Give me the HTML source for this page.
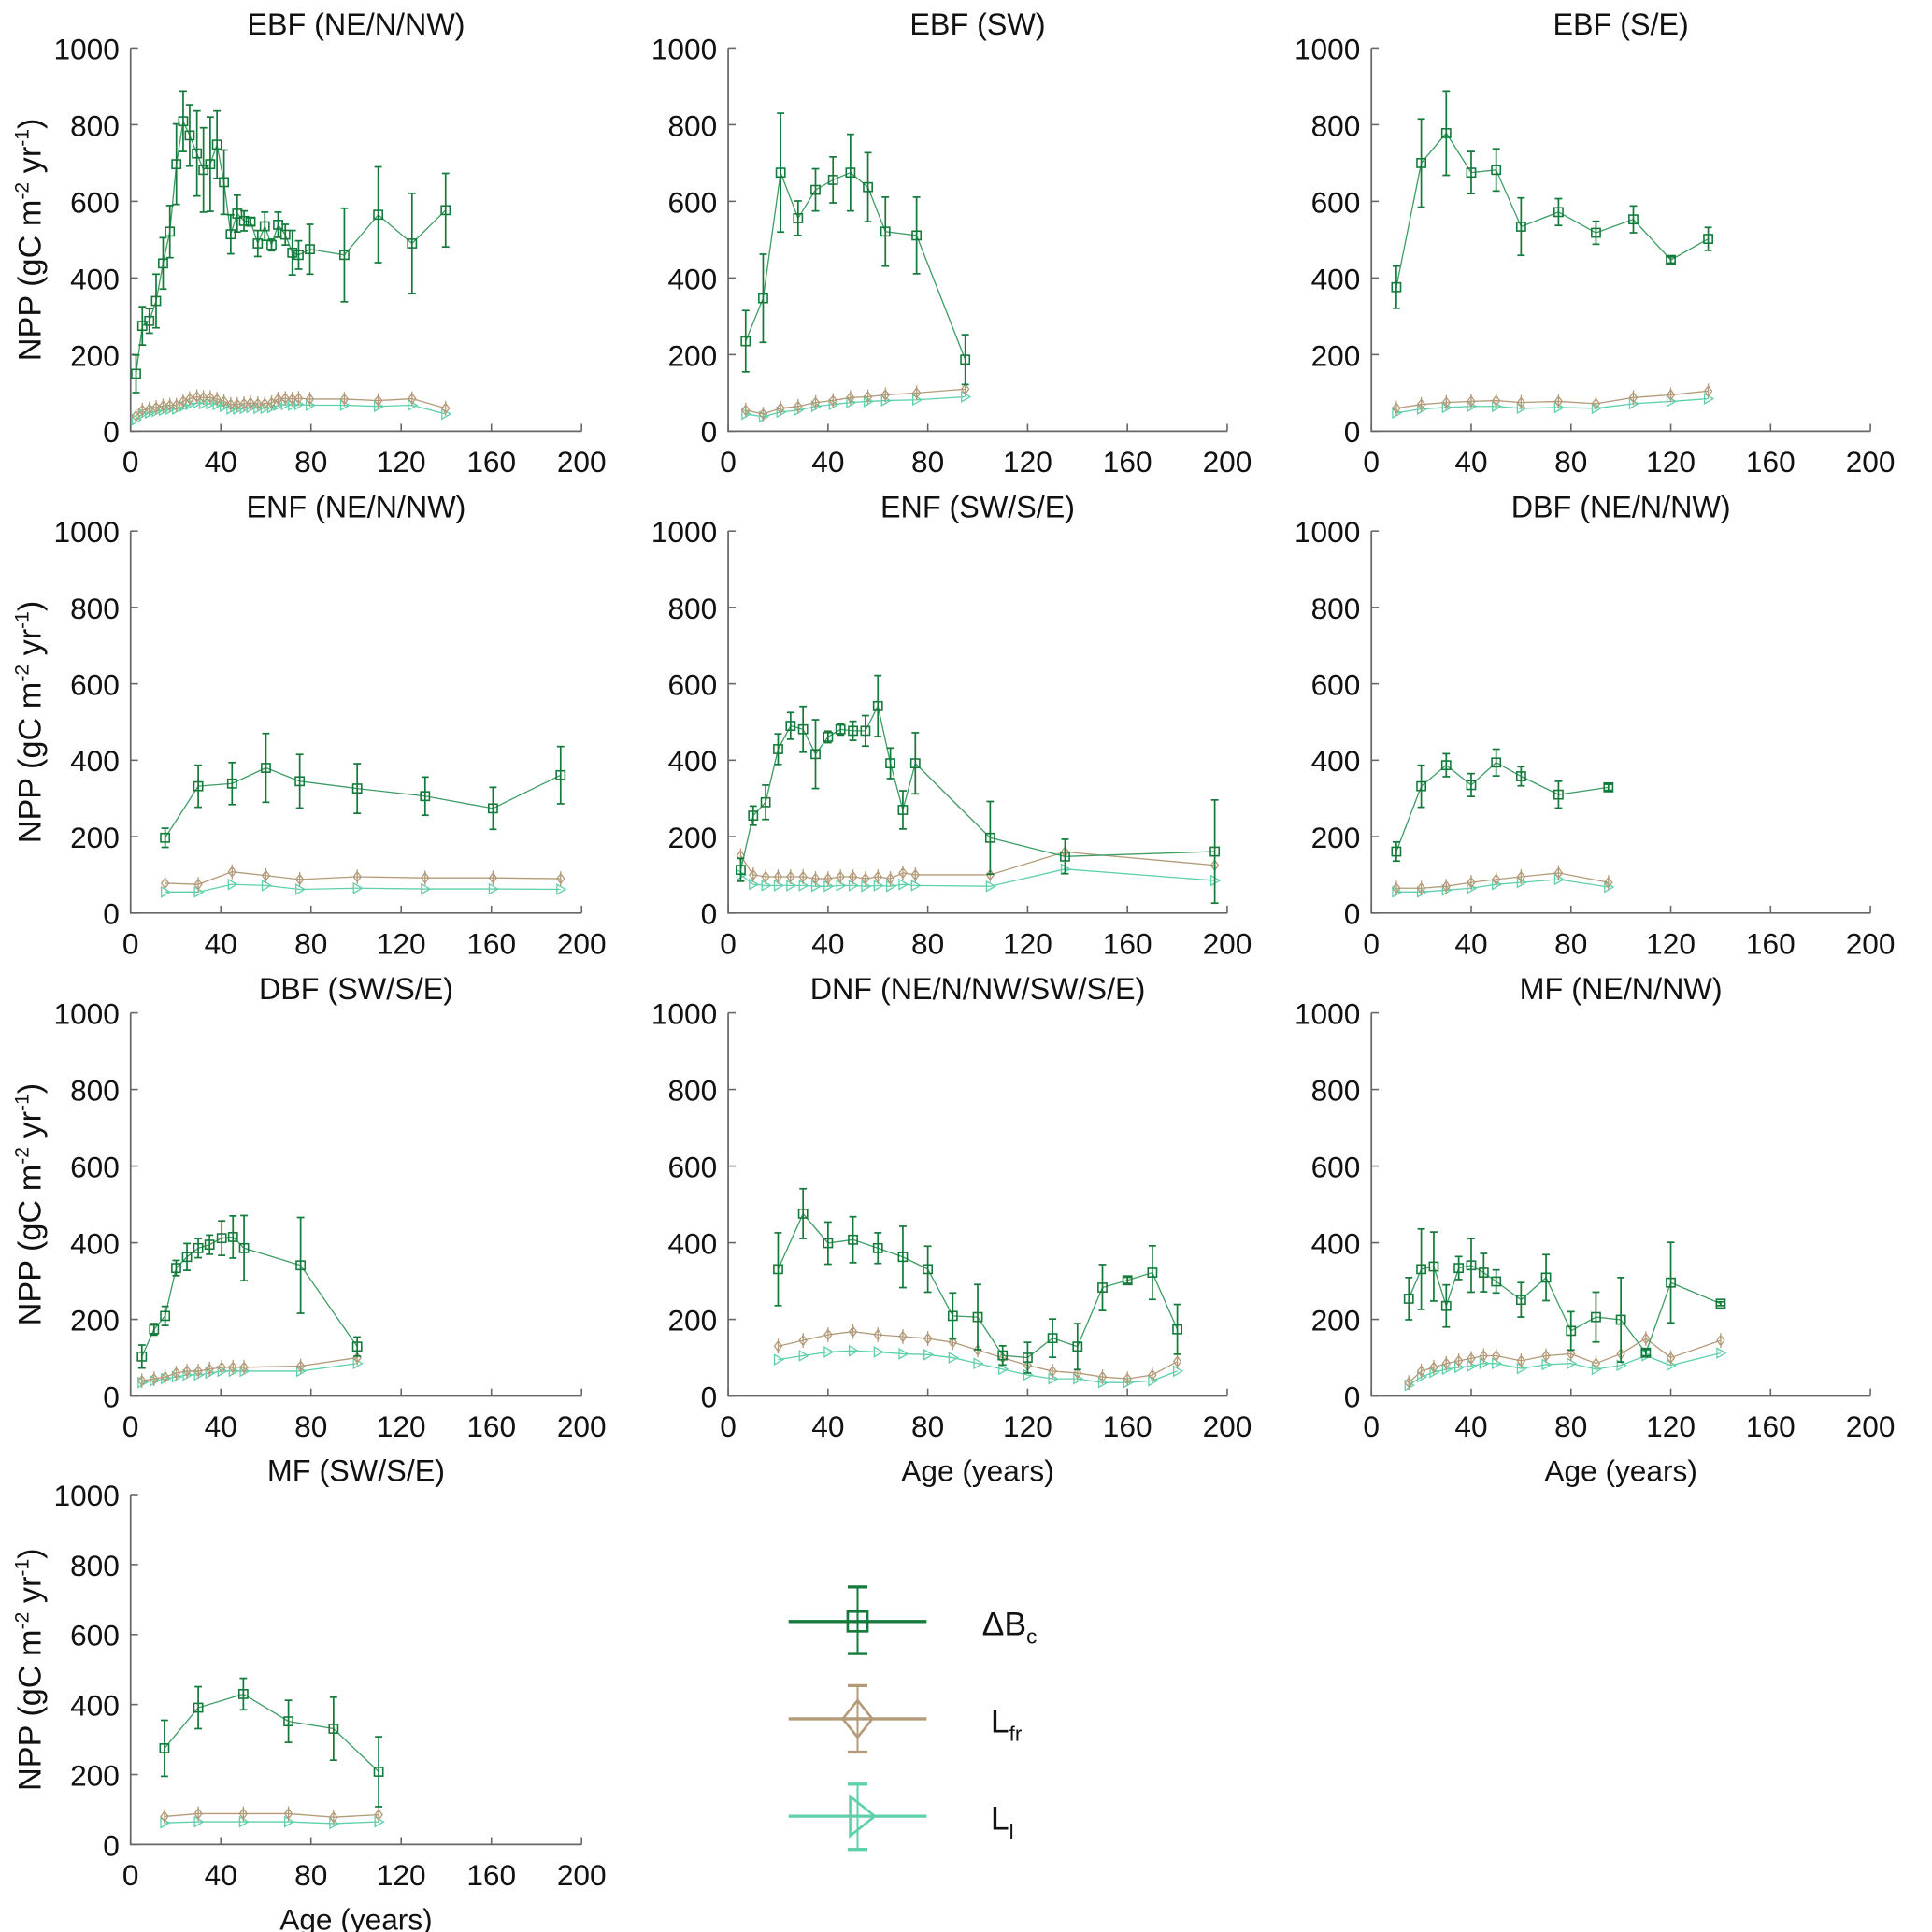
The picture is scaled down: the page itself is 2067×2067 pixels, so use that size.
<!DOCTYPE html>
<html><head><meta charset="utf-8"><style>
html,body{margin:0;padding:0;background:#fff}
svg{display:block}
text{font-family:"Liberation Sans",sans-serif;fill:#111}
</style></head><body>
<svg id="fig" width="2067" height="2067" viewBox="0 0 1568 1568" preserveAspectRatio="none" xmlns="http://www.w3.org/2000/svg">
<g id="legend">
 <g>
  <line x1="640" y1="1316" x2="752" y2="1316" stroke="#137a3a" stroke-width="2.5"/>
  <line x1="696" y1="1288" x2="696" y2="1342" stroke="#137a3a" stroke-width="1.5"/>
  <line x1="688" y1="1288" x2="704" y2="1288" stroke="#137a3a" stroke-width="2.5"/>
  <line x1="688" y1="1342" x2="704" y2="1342" stroke="#137a3a" stroke-width="2.5"/>
  <rect x="688" y="1308" width="16" height="16" fill="none" stroke="#137a3a" stroke-width="2"/>
  <text x="797" y="1327" font-size="27">ΔB<tspan font-size="17" dy="7">c</tspan></text>
 </g>
 <g>
  <line x1="640" y1="1395" x2="752" y2="1395" stroke="#b39b7a" stroke-width="2.5"/>
  <line x1="696" y1="1368" x2="696" y2="1422" stroke="#b39b7a" stroke-width="1.5"/>
  <line x1="688" y1="1368" x2="704" y2="1368" stroke="#b39b7a" stroke-width="2.5"/>
  <line x1="688" y1="1422" x2="704" y2="1422" stroke="#b39b7a" stroke-width="2.5"/>
  <polygon points="696,1380 708,1395 696,1410 684,1395" fill="none" stroke="#b39b7a" stroke-width="2"/>
  <text x="804" y="1406" font-size="27">L<tspan font-size="17" dy="7">fr</tspan></text>
 </g>
 <g>
  <line x1="640" y1="1474" x2="752" y2="1474" stroke="#5fd0ab" stroke-width="2.5"/>
  <line x1="696" y1="1448" x2="696" y2="1501" stroke="#5fd0ab" stroke-width="1.5"/>
  <line x1="688" y1="1448" x2="704" y2="1448" stroke="#5fd0ab" stroke-width="2.5"/>
  <line x1="688" y1="1501" x2="704" y2="1501" stroke="#5fd0ab" stroke-width="2.5"/>
  <polygon points="690,1458 710,1474 690,1490" fill="none" stroke="#5fd0ab" stroke-width="2"/>
  <text x="804" y="1485" font-size="27">L<tspan font-size="17" dy="7">l</tspan></text>
 </g>
</g>
</svg>
<script>
// ---- data ----
const titles = ["EBF (NE/N/NW)","EBF (SW)","EBF (S/E)","ENF (NE/N/NW)","ENF (SW/S/E)","DBF (NE/N/NW)","DBF (SW/S/E)","DNF (NE/N/NW/SW/S/E)","MF (NE/N/NW)","MF (SW/S/E)"];
const xTicks = [0,40,80,120,160,200];
const yTicks = [0,200,400,600,800,1000];

const ages1 = [2.4,5.2,8.3,11.3,14.4,17.4,20.3,23.3,26.2,29.4,32.3,35.3,38.3,41.4,44.4,47.3,50.3,53.2,56.4,59.5,62.5,65.4,68.6,71.7,74.5,79.5,94.8,109.8,124.8,139.7];
const dbc1 = [150,275,288,340,438,521,697,809,772,725,682,697,748,650,514,568,549,547,490,535,486,539,513,466,460,475,460,565,490,577];
const err1 = [49,50,32,70,67,68,105,79,80,111,110,123,88,84,51,48,26,10,34,37,15,33,27,58,37,65,122,125,131,96];
const lfr1 = [40,55,58,62,66,68,68,78,85,90,88,88,84,78,70,70,72,74,72,72,74,84,86,84,86,84,84,80,85,60];
const ll1 = [30,45,48,52,55,58,58,65,70,74,72,72,70,65,58,58,60,62,60,60,62,68,70,68,70,68,68,65,68,45];

const ages2 = [7,14,21,28,35,42,49,56,63,75.5,95];
const dbc2 = [235,347,675,556,630,656,675,637,521,511,187];
const err2 = [80,115,155,45,55,60,100,90,90,100,65];
const lfr2 = [55,45,60,65,75,80,88,90,95,100,110];
const ll2 = [45,38,50,55,65,70,75,78,80,82,90];

const ages3 = [10,20,30,40,50,60,75,90,105,120,135];
const dbc3 = [376,700,778,675,682,534,572,518,553,447,502];
const err3 = [55,115,110,55,55,75,35,30,35,8,30];
const lfr3 = [60,70,75,78,80,75,78,72,88,95,105];
const ll3 = [48,58,62,65,65,60,62,60,72,78,85];

const ages4 = [15.3,30,45,60,75,100.5,130.6,160.7,190.7];
const dbc4 = [197,332,339,380,345,326,306,274,361];
const err4 = [25,55,55,90,70,65,50,55,75];
const lfr4 = [78,75,108,98,88,95,92,92,90];
const ll4 = [55,55,75,72,62,65,63,63,62];

const ages5 = [5,10,15,20,25,30,35,40,45,50,55,60,65,70,75,105,135,195];
const dbc5 = [113,255,290,429,490,481,416,461,481,477,477,542,392,270,392,197,148,161];
const err5 = [30,25,45,40,35,60,90,15,15,25,40,80,40,50,80,95,45,135];
const lfr5 = [150,100,95,95,95,95,90,90,95,95,90,95,90,105,100,100,160,125];
const ll5 = [100,75,72,72,72,72,70,70,72,72,70,72,70,75,72,70,115,85];

const ages6 = [10,20,30,40,50,60,75,95];
const dbc6 = [161,332,387,335,394,358,310,329];
const err6 = [25,55,30,30,35,25,35,8];
const lfr6 = [65,65,70,80,88,95,105,80];
const ll6 = [55,55,60,65,75,80,88,68];

const ages7 = [5,10.4,15.3,20.2,25,30,35,40.4,45.4,50.3,75.4,100.5];
const dbc7 = [103,174,209,334,363,386,395,412,415,386,341,129];
const err7 = [30,15,25,20,35,25,25,45,55,85,125,25];
const lfr7 = [40,45,50,60,65,65,70,75,75,75,78,100];
const ll7 = [35,40,45,50,55,55,60,65,65,65,65,85];

const ages8 = [20,30,40,50,60,70,80,90,100,110,120,130,140,150,160,170,180];
const dbc8 = [331,476,399,408,386,363,331,209,206,106,100,151,129,283,302,322,174];
const err8 = [95,65,55,60,40,80,60,60,85,25,40,50,60,60,8,70,65];
const lfr8 = [130,145,160,168,160,155,150,140,120,100,80,65,60,50,45,55,90];
const ll8 = [95,105,115,118,115,110,108,100,85,70,55,45,45,35,35,40,65];

const ages9 = [15,20,25,30,35,40,45,50,60,70,80,90,100,110,120,140];
const dbc9 = [254,331,338,235,334,341,322,299,251,309,170,206,199,113,296,241];
const err9 = [55,105,90,55,30,70,50,30,45,60,50,65,110,8,105,5];
const lfr9 = [35,65,75,85,92,98,105,105,92,105,110,85,110,150,100,145];
const ll9 = [28,50,62,70,75,78,85,85,72,82,85,70,80,105,80,112];

const ages10 = [15,30,50,70,90,110];
const dbc10 = [275,391,430,352,331,208];
const err10 = [80,60,45,60,90,100];
const lfr10 = [80,88,88,88,78,85];
const ll10 = [62,65,65,65,60,65];

const allAges=[ages1,ages2,ages3,ages4,ages5,ages6,ages7,ages8,ages9,ages10];
const allDbc=[dbc1,dbc2,dbc3,dbc4,dbc5,dbc6,dbc7,dbc8,dbc9,dbc10];
const allErr=[err1,err2,err3,err4,err5,err6,err7,err8,err9,err10];
const allLfr=[lfr1,lfr2,lfr3,lfr4,lfr5,lfr6,lfr7,lfr8,lfr9,lfr10];
const allLl=[ll1,ll2,ll3,ll4,ll5,ll6,ll7,ll8,ll9,ll10];

// ---- layout ----
const cols=[[106,472],[591,996],[1113,1518]];
const rows=[[350,39],[741,431],[1133,822],[1497,1213]];
const xLabelPanels=[7,8,9];
const NS="http://www.w3.org/2000/svg";
const svg=document.getElementById('fig');
function mk(tag,attrs,parent){const e=document.createElementNS(NS,tag);for(const k in attrs)e.setAttribute(k,attrs[k]);(parent||svg).appendChild(e);return e;}

const C_D="#137a3a",C_DL="#3f9d65",C_F="#b39b7a",C_L="#5fd0ab";

titles.forEach((t,i)=>{
 const c=cols[i%3], r=rows[Math.floor(i/3)];
 const X=v=>c[0]+(c[1]-c[0])*v/200;
 const Y=v=>r[0]+(r[1]-r[0])*v/1000;
 const g=mk('g',{});
 
 
 const tt=mk('text',{x:(c[0]+c[1])/2,y:r[1]-11,'font-size':24.5,'text-anchor':'middle'},g);
 tt.textContent=t;
 
 
 const ax=mk('path',{d:`M${c[0]},${r[1]}V${r[0]}H${c[1]}`,fill:'none',stroke:'#666','stroke-width':1.3},g);
 
 
 xTicks.forEach(v=>{
  mk('line',{x1:X(v),x2:X(v),y1:r[0],y2:r[0]-6,stroke:'#666','stroke-width':1.2},g);
  const tl=mk('text',{x:X(v),y:r[0]+33,'font-size':24,'text-anchor':'middle'},g);
  tl.textContent=v;
  
  
 });
 yTicks.forEach(v=>{
  mk('line',{x1:c[0],x2:c[0]+6,y1:Y(v),y2:Y(v),stroke:'#666','stroke-width':1.2},g);
  const tl=mk('text',{x:c[0]-9,y:Y(v)+9,'font-size':24,'text-anchor':'end'},g);
  tl.textContent=v;
  
  
 });
 if(i%3===0){
  const ym=(r[0]+r[1])/2;
  const yl=mk('text',{x:0,y:0,'font-size':26,'text-anchor':'middle',transform:`translate(33,${ym}) rotate(-90)`},g);
  yl.innerHTML='NPP (gC m<tspan font-size="16" dy="-10">-2</tspan><tspan dy="10"> yr</tspan><tspan font-size="16" dy="-10">-1</tspan><tspan dy="10">)</tspan>';
  
  
 }
 if(xLabelPanels.includes(i)){
  const xl=mk('text',{x:(c[0]+c[1])/2,y:r[0]+69,'font-size':24,'text-anchor':'middle'},g);
  xl.textContent='Age (years)';
  
  
 }
 const ages=allAges[i];
 const sl=mk('g',{},g);
 
 
 mk('polyline',{points:ages.map((a,k)=>X(a)+','+Y(allLl[i][k])).join(' '),fill:'none',stroke:C_L,'stroke-width':1},sl);
 ages.forEach((a,k)=>{const x=X(a),y=Y(allLl[i][k]);
  const m=mk('polygon',{points:`${x-3},${y-4} ${x+4},${y} ${x-3},${y+4}`,fill:'none',stroke:C_L,'stroke-width':1},sl);
  
  });
 const sf=mk('g',{},g);
 
 
 mk('polyline',{points:ages.map((a,k)=>X(a)+','+Y(allLfr[i][k])).join(' '),fill:'none',stroke:C_F,'stroke-width':1},sf);
 ages.forEach((a,k)=>{const x=X(a),y=Y(allLfr[i][k]);
  mk('line',{x1:x,x2:x,y1:y-6,y2:y+6,stroke:C_F,'stroke-width':1},sf);
  const m=mk('polygon',{points:`${x},${y-4} ${x+3},${y} ${x},${y+4} ${x-3},${y}`,fill:'none',stroke:C_F,'stroke-width':1},sf);
  
  });
 const sd=mk('g',{},g);
 
 
 mk('polyline',{points:ages.map((a,k)=>X(a)+','+Y(allDbc[i][k])).join(' '),fill:'none',stroke:C_DL,'stroke-width':1},sd);
 ages.forEach((a,k)=>{const x=X(a),v=allDbc[i][k],e=allErr[i][k],y=Y(v);
  const y1=Y(v+e),y2=Y(v-e);
  mk('line',{x1:x,x2:x,y1:y1,y2:y2,stroke:C_D,'stroke-width':1.3},sd);
  mk('line',{x1:x-3,x2:x+3,y1:y1,y2:y1,stroke:C_D,'stroke-width':1.3},sd);
  mk('line',{x1:x-3,x2:x+3,y1:y2,y2:y2,stroke:C_D,'stroke-width':1.3},sd);
  const m=mk('rect',{x:x-3.5,y:y-3.5,width:7,height:7,fill:'none',stroke:C_D,'stroke-width':1.2},sd);
  
  });
});
</script>
</body></html>
